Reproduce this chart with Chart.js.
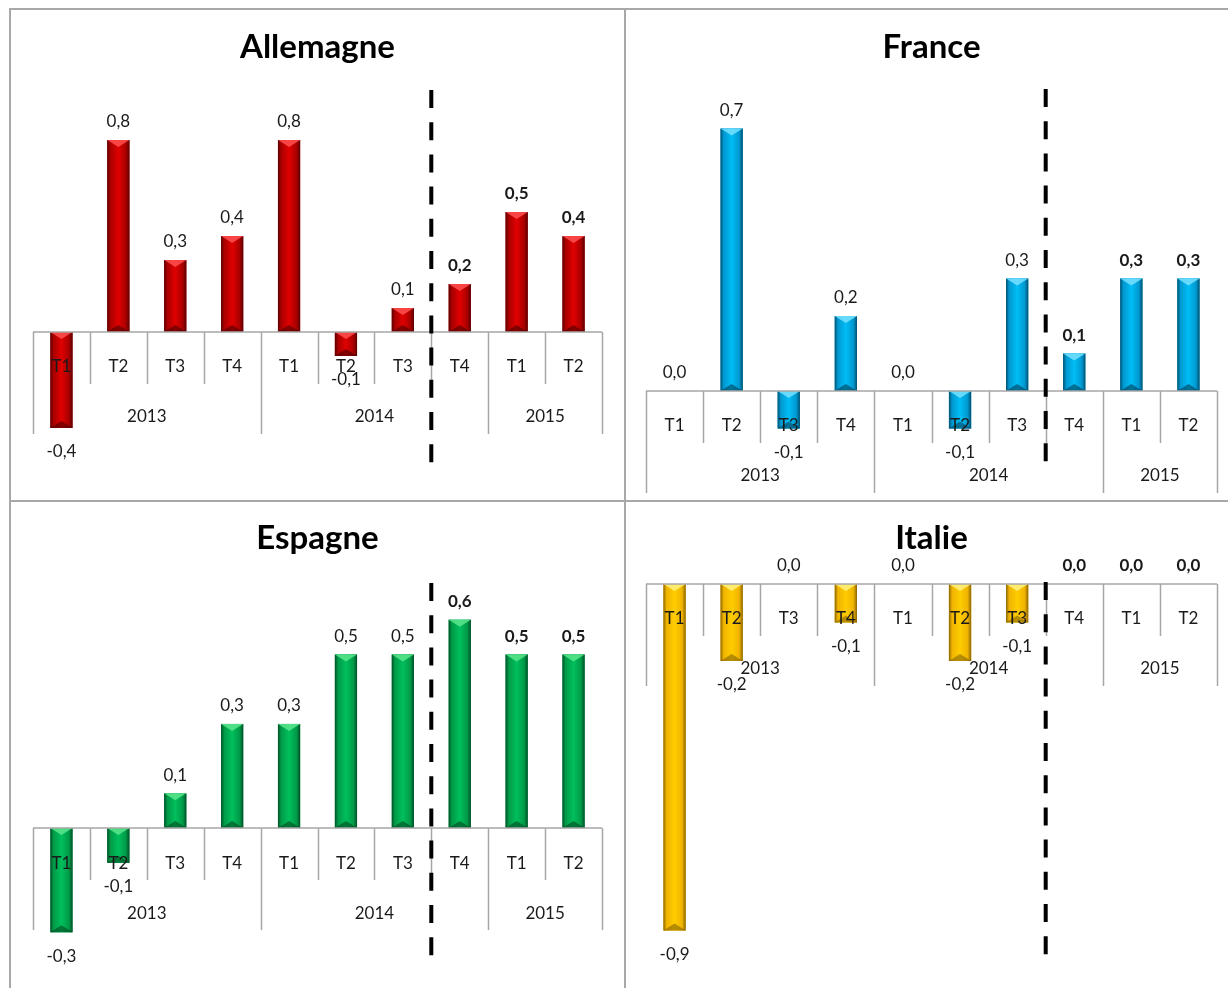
<!DOCTYPE html>
<html><head><meta charset="utf-8">
<script src="https://cdn.jsdelivr.net/npm/chart.js@4.4.1/dist/chart.umd.min.js"></script>
<style>
html,body{margin:0;padding:0;background:#fff;}
#wrap{position:relative;width:1228px;height:988px;overflow:hidden;background:#fff;}
.ln{position:absolute;background:#a8a8a8;}
.panel{position:absolute;}
</style></head><body>
<div id="wrap">
 <div class="ln" style="left:10px;top:8px;width:1218px;height:2px"></div>
 <div class="ln" style="left:9px;top:8px;width:2px;height:980px"></div>
 <div class="ln" style="left:624px;top:8px;width:2px;height:980px"></div>
 <div class="ln" style="left:10px;top:500px;width:1218px;height:2px"></div>
 <div class="panel" style="left:12px;top:10px;width:612px;height:490px"><canvas id="cA"></canvas></div>
 <div class="panel" style="left:627px;top:10px;width:601px;height:490px"><canvas id="cB"></canvas></div>
 <div class="panel" style="left:12px;top:503px;width:612px;height:485px"><canvas id="cC"></canvas></div>
 <div class="panel" style="left:627px;top:503px;width:601px;height:485px"><canvas id="cD"></canvas></div>
</div>
<script>
// ---- data ----
const quarters = ['T1','T2','T3','T4','T1','T2','T3','T4','T1','T2'];
const years = ['2013','2014','2015'];
const yearSpans = [4, 4, 2];
const forecastStart = 7; // first forecast quarter (T4 2014)
const allemagne = [-0.4, 0.8, 0.3, 0.4, 0.8, -0.1, 0.1, 0.2, 0.5, 0.4];
const france    = [0.0, 0.7, -0.1, 0.2, 0.0, -0.1, 0.3, 0.1, 0.3, 0.3];
const espagne   = [-0.3, -0.1, 0.1, 0.3, 0.3, 0.5, 0.5, 0.6, 0.5, 0.5];
const italie    = [-0.9, -0.2, 0.0, -0.1, 0.0, -0.2, -0.1, 0.0, 0.0, 0.0];

const FONT = 'Lato, "Open Sans", sans-serif';
const TITLE_SIZE = 33;
const LABEL_SIZE = 17;

const palettes = {
  red:    {base:'#c00000', dark:'#5a0000', mid:'#a80000', bright:'#e00000', light:'rgba(255,80,80,0.85)', shade:'rgba(60,0,0,0.55)'},
  blue:   {base:'#00a8e6', dark:'#00506e', mid:'#0098d0', bright:'#00bdf5', light:'rgba(120,225,255,0.85)', shade:'rgba(0,40,60,0.5)'},
  green:  {base:'#00a650', dark:'#004f26', mid:'#009a48', bright:'#00bf5c', light:'rgba(90,230,140,0.85)', shade:'rgba(0,50,20,0.5)'},
  yellow: {base:'#ffc000', dark:'#8a6400', mid:'#efb400', bright:'#ffcc00', light:'rgba(255,240,120,0.9)', shade:'rgba(110,80,0,0.5)'}
};

function fmt(v){ return v.toFixed(1).replace('.', ','); }

const decoPlugin = {
  id: 'deco',
  afterDatasetsDraw(chart, args, opts) {
    const ctx = chart.ctx;
    const pal = opts.pal;
    const meta = chart.getDatasetMeta(0);
    const xs = chart.scales.x, ys = chart.scales.y;
    const data = chart.data.datasets[0].data;
    const n = data.length;
    const zero = ys.getPixelForValue(0);
    ctx.save();
    // bevelled bars
    meta.data.forEach((bar) => {
      const p = bar.getProps(['x','y','base','width'], true);
      const l = p.x - p.width/2, r = p.x + p.width/2;
      const t = Math.min(p.y, p.base), b = Math.max(p.y, p.base);
      if (b - t < 0.5) return;
      const g = ctx.createLinearGradient(l, 0, r, 0);
      g.addColorStop(0, pal.dark);
      g.addColorStop(0.14, pal.mid);
      g.addColorStop(0.5, pal.bright);
      g.addColorStop(0.84, pal.mid);
      g.addColorStop(1, pal.dark);
      ctx.fillStyle = g;
      ctx.fillRect(l, t, r - l, b - t);
      const bev = Math.min(7, (b - t) / 2);
      ctx.beginPath(); ctx.moveTo(l, t); ctx.lineTo(r, t); ctx.lineTo(p.x, t + bev); ctx.closePath();
      ctx.fillStyle = pal.light; ctx.fill();
      ctx.beginPath(); ctx.moveTo(l, b); ctx.lineTo(r, b); ctx.lineTo(p.x, b - bev); ctx.closePath();
      ctx.fillStyle = pal.shade; ctx.fill();
    });
    // two-level category axis
    const w = xs.getPixelForValue(1) - xs.getPixelForValue(0);
    const bnd = i => xs.getPixelForValue(i) - w/2;
    ctx.strokeStyle = '#a6a6a6';
    ctx.lineWidth = 1.5;
    ctx.beginPath(); ctx.moveTo(bnd(0), zero); ctx.lineTo(bnd(n), zero); ctx.stroke();
    const yearB = [0]; yearSpans.forEach(s => yearB.push(yearB[yearB.length-1] + s));
    for (let i = 0; i <= n; i++) {
      const len = yearB.includes(i) ? 102 : 52;
      const x = Math.round(bnd(i)) + 0.5;
      ctx.beginPath(); ctx.moveTo(x, zero); ctx.lineTo(x, zero + len); ctx.stroke();
    }
    ctx.fillStyle = '#1a1a1a';
    ctx.textAlign = 'center'; ctx.textBaseline = 'middle';
    ctx.font = LABEL_SIZE + 'px ' + FONT;
    quarters.forEach((q, i) => ctx.fillText(q, xs.getPixelForValue(i), zero + 35));
    years.forEach((y, k) => ctx.fillText(y, (bnd(yearB[k]) + bnd(yearB[k+1])) / 2, zero + 85));
    // data labels
    data.forEach((v, i) => {
      ctx.font = (i >= forecastStart ? 'bold ' : '') + LABEL_SIZE + 'px ' + FONT;
      const yv = ys.getPixelForValue(v);
      const y = v < 0 ? yv + 24 : yv - 18;
      ctx.fillText(fmt(v), xs.getPixelForValue(i), y);
    });
    // forecast separator
    const xd = bnd(forecastStart);
    ctx.strokeStyle = '#000';
    ctx.lineWidth = 4;
    ctx.setLineDash([18, 14.2]);
    ctx.beginPath(); ctx.moveTo(xd, chart.chartArea.top - 2); ctx.lineTo(xd, opts.dashBottom); ctx.stroke();
    ctx.restore();
  }
};

function makeChart(id, title, values, pal, g) {
  return new Chart(document.getElementById(id), {
    type: 'bar',
    data: { labels: quarters, datasets: [{ data: values, backgroundColor: pal.base, borderWidth: 0,
      barPercentage: 0.39, categoryPercentage: 1.0 }] },
    options: {
      responsive: true, maintainAspectRatio: false, animation: false,
      layout: { padding: { left: g.left, right: g.right, top: 0, bottom: g.bottom } },
      scales: {
        x: { display: false },
        y: { display: false, min: g.min, max: g.max }
      },
      plugins: {
        legend: { display: false },
        tooltip: { enabled: false },
        title: { display: true, text: title, color: '#000',
          font: { family: FONT, size: TITLE_SIZE, weight: 'bold', lineHeight: 1.2 },
          padding: { top: g.tTop, bottom: g.tBottom } },
        deco: { pal: pal, dashBottom: 453 }
      }
    },
    plugins: [decoPlugin]
  });
}

function build() {
  makeChart('cA', 'Allemagne', allemagne, palettes.red,    {left:21, right:22, bottom:48, min:-0.5, max:1.0, tTop:17.2, tBottom:25.2});
  makeChart('cB', 'France',    france,    palettes.blue,   {left:19, right:11, bottom:34, min:-0.2, max:0.8, tTop:17.2, tBottom:24.2});
  makeChart('cC', 'Espagne',   espagne,   palettes.green,  {left:21, right:22, bottom:21, min:-0.4, max:0.7, tTop:15.2, tBottom:27.2});
  makeChart('cD', 'Italie',    italie,    palettes.yellow, {left:19, right:11, bottom:19, min:-1.0, max:0.0, tTop:15.2, tBottom:26.2});
}
if (document.fonts && document.fonts.load) {
  Promise.all([document.fonts.load('bold 33px Lato'), document.fonts.load('17px Lato')]).then(build, build);
} else { build(); }
</script>
</body></html>
